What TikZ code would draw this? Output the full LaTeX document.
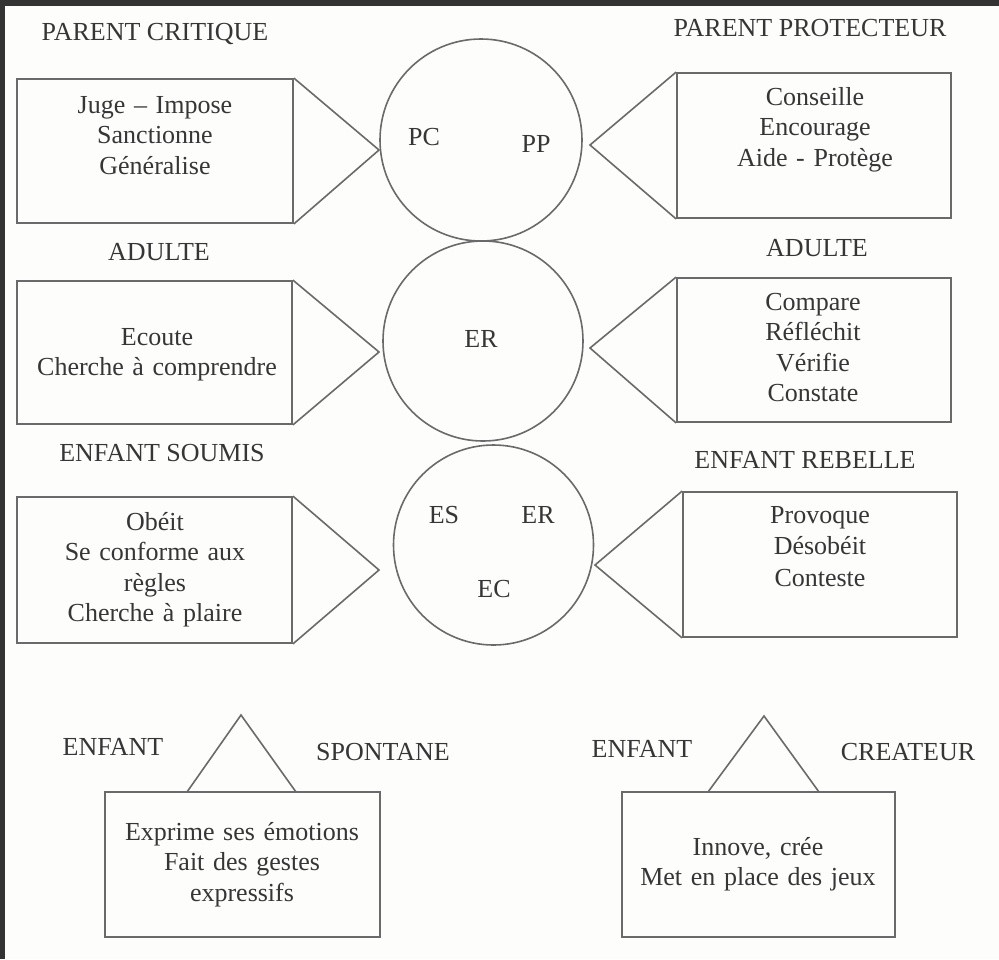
\documentclass[tikz,border=0pt]{standalone}
\usepackage{fontspec}
\setmainfont{Liberation Serif}
\definecolor{ink}{HTML}{363636}
\definecolor{edge}{HTML}{6A6A6A}
\definecolor{framecol}{HTML}{333333}
\definecolor{paper}{HTML}{FDFDFB}
\begin{document}
\begin{tikzpicture}[x=1pt,y=-1pt,
  box/.style={draw=edge, line width=1.8pt, rectangle, inner sep=0pt},
  ball/.style={draw=edge, line width=1.6pt, circle, inner sep=0pt, minimum size=#1},
  lbl/.style={anchor=base, text=ink, font=\fontsize{26}{30.5}\selectfont, inner sep=0pt},
  txt/.style={lbl, text width=272pt, align=center},
  wedge/.style={draw=edge, line width=1.6pt, line join=miter}]
% background and dark frame
\fill[paper] (0,0) rectangle (999,959);
\useasboundingbox (0,0) rectangle (999,959);
\fill[framecol] (0,0) rectangle (999,6);
\fill[framecol] (0,0) rectangle (5,959);

% circles
\node[ball=202pt] (c1) at (481,140) {};
\node[ball=200pt] (c2) at (483,341) {};
\node[ball=200pt] (c3) at (493.5,545) {};

% side boxes
\node[box, minimum width=276pt, minimum height=144pt] (b1) at (155,151) {};
\node[box, minimum width=274pt, minimum height=145pt] (b2) at (814,145.5) {};
\node[box, minimum width=275pt, minimum height=143pt] (b3) at (154.5,352.5) {};
\node[box, minimum width=274pt, minimum height=144pt] (b4) at (814,350) {};
\node[box, minimum width=275pt, minimum height=146pt] (b5) at (154.5,570) {};
\node[box, minimum width=274pt, minimum height=145pt] (b6) at (820,564.5) {};
% bottom boxes
\node[box, minimum width=275pt, minimum height=145pt] (b7) at (242.5,864.5) {};
\node[box, minimum width=273pt, minimum height=145pt] (b8) at (758.5,864.5) {};

% wedges pointing to the circles
\coordinate (a1) at (379,150);
\coordinate (a2) at (590,145);
\coordinate (a3) at (379,352);
\coordinate (a4) at (590,348);
\coordinate (a5) at (379,570);
\coordinate (a6) at (595,565);
\draw[wedge] (b1.north east) -- (a1) -- (b1.south east);
\draw[wedge] (b2.north west) -- (a2) -- (b2.south west);
\draw[wedge] (b3.north east) -- (a3) -- (b3.south east);
\draw[wedge] (b4.north west) -- (a4) -- (b4.south west);
\draw[wedge] (b5.north east) -- (a5) -- (b5.south east);
\draw[wedge] (b6.north west) -- (a6) -- (b6.south west);
% triangles on the bottom boxes
\coordinate (t7l) at (187,792);
\coordinate (t7r) at (296,792);
\coordinate (a7) at (241,715);
\coordinate (t8l) at (708,792);
\coordinate (t8r) at (819,792);
\coordinate (a8) at (764,716);
\draw[wedge] (t7l) -- (a7) -- (t7r);
\draw[wedge] (t8l) -- (a8) -- (t8r);

% titles
\node[lbl] (l1) at (155,40) {PARENT CRITIQUE};
\node[lbl] (l2) at (810,36) {PARENT PROTECTEUR};
\node[lbl] (l3) at (159,260) {ADULTE};
\node[lbl] (l4) at (817,256) {ADULTE};
\node[lbl] (l5) at (162,461) {ENFANT SOUMIS};
\node[lbl] (l6) at (805,468) {ENFANT REBELLE};
\node[lbl] (l7) at (113,755) {ENFANT};
\node[lbl] (l8) at (383,760) {SPONTANE};
\node[lbl] (l9) at (642,757) {ENFANT};
\node[lbl] (l10) at (908,760) {CREATEUR};

% circle labels
\node[lbl] (pc) at (424,145) {PC};
\node[lbl] (pp) at (536,152) {PP};
\node[lbl] (er1) at (481,347) {ER};
\node[lbl] (es) at (444,523) {ES};
\node[lbl] (er2) at (538,523) {ER};
\node[lbl] (ec) at (494,597) {EC};

% box texts
\node[txt] (x1) at (155,113) {Juge – Impose\\Sanctionne\\Généralise};
\node[txt] (x2) at (815,105) {Conseille\\Encourage\\Aide - Protège};
\node[txt] (x3) at (157,345) {Ecoute\\Cherche à comprendre};
\node[txt] (x4) at (813,310) {Compare\\Réfléchit\\Vérifie\\Constate};
\node[txt] (x5) at (155,530) {Obéit\\Se conforme aux\\règles\\Cherche à plaire};
\node[txt, font=\fontsize{26}{31.5}\selectfont] (x6) at (820,523) {Provoque\\Désobéit\\Conteste};
\node[txt] (x7) at (242,840) {Exprime ses émotions\\Fait des gestes\\expressifs};
\node[txt] (x8) at (758,855) {Innove, crée\\Met en place des jeux};
\end{tikzpicture}
\end{document}
